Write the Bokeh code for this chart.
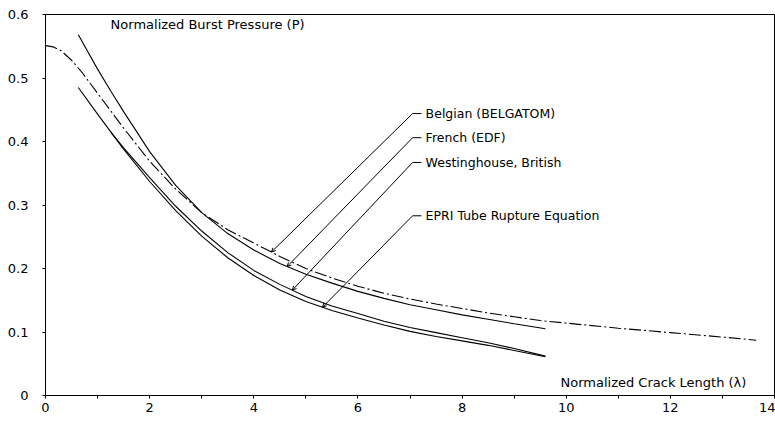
from bokeh.plotting import figure
from bokeh.models import FixedTicker, Arrow, OpenHead, Range1d
from bokeh.core.properties import value
from bokeh.embed import file_html
from bokeh.resources import INLINE

# ---- data ----
belgian_x = [0.0, 0.15, 0.3, 0.5, 0.7, 1.0, 1.5, 2.0, 2.5, 3.0, 3.5, 4.0, 4.34, 4.5, 5.0, 5.5, 6.0, 6.5, 7.0, 7.5, 8.0, 8.5, 9.0, 9.5, 10.0, 11.0, 12.0, 13.0, 13.65]
belgian_y = [0.551, 0.549, 0.543, 0.528, 0.509, 0.476, 0.421, 0.369, 0.325, 0.288, 0.261, 0.240, 0.226, 0.219, 0.200, 0.185, 0.172, 0.161, 0.152, 0.144, 0.137, 0.130, 0.124, 0.118, 0.114, 0.106, 0.099, 0.092, 0.087]

french_x = [0.63, 1.0, 1.25, 1.5, 2.0, 2.5, 3.0, 3.5, 4.0, 4.5, 5.0, 5.5, 6.0, 6.5, 7.0, 7.5, 8.0, 8.5, 9.0, 9.6]
french_y = [0.568, 0.514, 0.480, 0.447, 0.384, 0.331, 0.288, 0.255, 0.229, 0.208, 0.191, 0.177, 0.164, 0.153, 0.143, 0.135, 0.127, 0.120, 0.113, 0.105]

westinghouse_x = [1.26, 1.5, 2.0, 2.5, 3.0, 3.5, 4.0, 4.5, 5.0, 5.5, 6.0, 6.5, 7.0, 7.5, 8.0, 8.5, 9.0, 9.6]
westinghouse_y = [0.414, 0.390, 0.343, 0.298, 0.259, 0.225, 0.197, 0.175, 0.156, 0.141, 0.129, 0.117, 0.107, 0.099, 0.091, 0.083, 0.074, 0.062]

epri_x = [0.63, 1.0, 1.5, 2.0, 2.5, 3.0, 3.5, 4.0, 4.5, 5.0, 5.5, 6.0, 6.5, 7.0, 7.5, 8.0, 8.5, 9.0, 9.6]
epri_y = [0.485, 0.443, 0.388, 0.337, 0.291, 0.251, 0.217, 0.189, 0.166, 0.148, 0.134, 0.122, 0.111, 0.101, 0.093, 0.086, 0.079, 0.071, 0.061]

labels = ["Belgian (BELGATOM)", "French (EDF)", "Westinghouse, British", "EPRI Tube Rupture  Equation"]
label_y = [0.444, 0.406, 0.367, 0.283]
leader_x = [4.34, 4.64, 4.74, 5.32]
leader_y = [0.226, 0.203, 0.166, 0.139]
anchor_x = 7.05
tick_end_x = 7.22
text_x = 7.30

x_ticks = [0, 2, 4, 6, 8, 10, 12, 14]
x_minor_ticks = [1, 3, 5, 7, 9, 11, 13]
y_ticks = [0, 0.1, 0.2, 0.3, 0.4, 0.5, 0.6]
y_tick_labels = {0: "0", 0.1: "0.1", 0.2: "0.2", 0.3: "0.3", 0.4: "0.4", 0.5: "0.5", 0.6: "0.6"}

y_title = "Normalized Burst Pressure (P)"
x_title = "Normalized Crack Length (\u03bb)"

FONT = "'DejaVu Sans'"

p = figure(width=775, height=421, output_backend="svg", toolbar_location=None,
           x_range=Range1d(0, 14), y_range=Range1d(0, 0.6),
           min_border_left=45, min_border_right=1, min_border_top=14, min_border_bottom=26)
p.grid.visible = False
p.background_fill_color = "white"
p.border_fill_color = "white"
p.outline_line_color = "black"
p.outline_line_width = 1

# curves
p.line(belgian_x, belgian_y, line_color="black", line_width=1.1, line_dash="12 3 2 3")
p.line(french_x, french_y, line_color="black", line_width=1.1)
p.line(westinghouse_x, westinghouse_y, line_color="black", line_width=1.1)
p.line(epri_x, epri_y, line_color="black", line_width=1.1)

# leader lines
for lx, ly, ty in zip(leader_x, leader_y, label_y):
    p.segment(x0=[anchor_x], y0=[ty], x1=[tick_end_x], y1=[ty], line_color="black", line_width=1)
    p.add_layout(Arrow(x_start=anchor_x, y_start=ty, x_end=lx, y_end=ly,
                       line_color="black", line_width=1,
                       end=OpenHead(size=4, line_color="black", line_width=1)))

p.text(x=[text_x] * len(labels), y=label_y, text=labels,
       text_font=value(FONT), text_font_size="12.5px", text_baseline="middle",
       text_align="left", text_color="black")

p.text(x=[1.25], y=[0.584], text=[y_title], text_font=value(FONT), text_font_size="13px",
       text_baseline="middle", text_align="left", text_color="black")
p.text(x=[9.89], y=[0.021], text=[x_title], text_font=value(FONT), text_font_size="13px",
       text_baseline="middle", text_align="left", text_color="black")

# axes
xa = p.xaxis[0]
xa.ticker = FixedTicker(ticks=x_ticks, minor_ticks=x_minor_ticks)
xa.major_tick_in = 0
xa.major_tick_out = 3
xa.minor_tick_in = 0
xa.minor_tick_out = 3
xa.major_label_standoff = 4
xa.major_label_text_font = FONT
xa.major_label_text_font_size = "13px"
xa.major_label_text_color = "black"
xa.axis_line_color = "black"

ya = p.yaxis[0]
ya.ticker = FixedTicker(ticks=y_ticks)
ya.major_tick_in = 0
ya.major_tick_out = 3
ya.minor_tick_line_color = None
ya.major_label_standoff = 14
ya.major_label_text_font = FONT
ya.major_label_text_font_size = "13px"
ya.major_label_text_color = "black"
ya.major_label_overrides = y_tick_labels
ya.axis_line_color = "black"

open("out.html", "w").write(file_html(p, INLINE))
